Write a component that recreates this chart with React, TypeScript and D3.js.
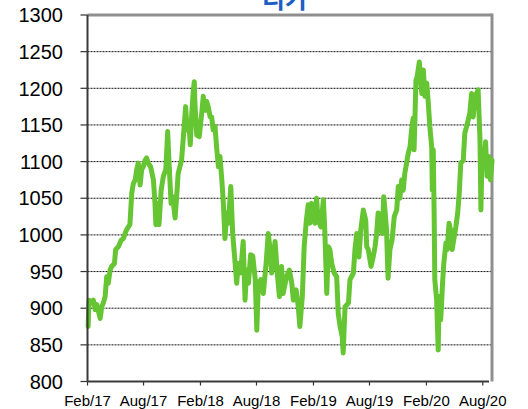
import React from "react";
import * as d3 from "d3";

const title = "리가";

const dates: string[] = [
  "2017-02-03","2017-02-06","2017-02-15","2017-02-20","2017-02-26","2017-03-03","2017-03-14","2017-03-19","2017-03-24","2017-03-30",
  "2017-04-04","2017-04-09","2017-04-15","2017-04-20","2017-04-29","2017-05-03","2017-05-12","2017-05-21","2017-05-28","2017-06-05",
  "2017-06-13","2017-06-18","2017-06-24","2017-06-29","2017-07-05","2017-07-10","2017-07-15","2017-07-21","2017-07-26","2017-07-31",
  "2017-08-06","2017-08-11","2017-08-16","2017-08-24","2017-09-02","2017-09-07","2017-09-10","2017-09-16","2017-09-20","2017-09-27",
  "2017-10-04","2017-10-12","2017-10-18","2017-10-22","2017-10-29","2017-11-03","2017-11-11","2017-11-16","2017-11-21","2017-12-02",
  "2017-12-11","2017-12-15","2017-12-20","2017-12-26","2017-12-30","2018-01-04","2018-01-09","2018-01-12","2018-01-14","2018-01-20",
  "2018-01-28","2018-02-05","2018-02-10","2018-02-16","2018-02-21","2018-02-26","2018-03-04","2018-03-09","2018-03-14","2018-03-20",
  "2018-03-25","2018-03-31","2018-04-05","2018-04-11","2018-04-16","2018-04-21","2018-04-27","2018-05-02","2018-05-10","2018-05-16",
  "2018-05-24","2018-05-29","2018-06-03","2018-06-09","2018-06-14","2018-06-19","2018-06-25","2018-06-30","2018-07-06","2018-07-13",
  "2018-07-20","2018-07-28","2018-08-02","2018-08-07","2018-08-15","2018-08-23","2018-09-01","2018-09-08","2018-09-14","2018-09-19",
  "2018-09-30","2018-10-07","2018-10-14","2018-10-21","2018-10-26","2018-11-06","2018-11-15","2018-11-23","2018-11-28","2018-12-07",
  "2018-12-14","2018-12-19","2018-12-27","2019-01-02","2019-01-09","2019-01-15","2019-01-20","2019-01-26","2019-01-31","2019-02-06",
  "2019-02-11","2019-02-16","2019-02-25","2019-03-05","2019-03-10","2019-03-16","2019-03-21","2019-03-26","2019-04-01","2019-04-09",
  "2019-04-17","2019-04-22","2019-04-28","2019-05-05","2019-05-08","2019-05-14","2019-05-25","2019-05-30","2019-06-10","2019-06-15",
  "2019-06-21","2019-06-28","2019-07-04","2019-07-12","2019-07-20","2019-07-23","2019-07-28","2019-08-06","2019-08-13","2019-08-19",
  "2019-08-24","2019-08-29","2019-09-04","2019-09-11","2019-09-16","2019-09-20","2019-09-25","2019-09-30","2019-10-06","2019-10-13",
  "2019-10-20","2019-10-28","2019-11-02","2019-11-07","2019-11-13","2019-11-18","2019-11-23","2019-11-29","2019-12-04","2019-12-10",
  "2019-12-15","2019-12-20","2019-12-23","2019-12-26","2019-12-29","2020-01-02","2020-01-09","2020-01-13","2020-01-17","2020-01-22",
  "2020-01-27","2020-02-02","2020-02-07","2020-02-12","2020-02-18","2020-02-20","2020-02-23","2020-02-26","2020-02-28","2020-03-05",
  "2020-03-10","2020-03-13","2020-03-18","2020-03-21","2020-03-24","2020-03-28","2020-04-04","2020-04-08","2020-04-14","2020-04-19",
  "2020-04-24","2020-05-01","2020-05-06","2020-05-12","2020-05-17","2020-05-22","2020-05-30","2020-06-04","2020-06-10","2020-06-15",
  "2020-06-20","2020-06-26","2020-07-01","2020-07-07","2020-07-12","2020-07-17","2020-07-23","2020-07-26","2020-07-30","2020-08-05",
  "2020-08-10","2020-08-15","2020-08-21","2020-08-26","2020-08-31"
];

const values: number[] = [
  875,911,907,911,898,905,886,902,907,916,
  943,934,952,957,961,980,984,993,995,1005,
  1011,1014,1057,1070,1075,1089,1098,1068,1089,1093,
  1102,1105,1098,1093,1075,1043,1014,1043,1014,1061,
  1080,1089,1141,1102,1043,1052,1023,1052,1084,1102,
  1152,1175,1143,1152,1123,1166,1198,1209,1180,1136,
  1134,1166,1189,1170,1182,1175,1161,1161,1143,1148,
  1120,1093,1107,1075,1043,995,1030,1016,1066,1002,
  961,934,961,948,966,991,911,952,934,973,
  971,939,870,934,939,920,961,1002,980,948,
  991,948,916,957,920,943,952,934,911,925,
  902,875,916,984,1020,1041,1016,1043,1020,1016,
  1050,1020,1011,1048,1002,920,984,980,961,948,
  943,893,875,861,839,902,907,939,948,980,
  1002,970,1007,1034,1020,984,980,957,970,984,
  1002,1030,1011,1002,1052,1034,1007,941,980,993,
  1025,1034,1066,1050,1075,1061,1084,1098,1111,1120,
  1143,1159,1116,1161,1211,1216,1236,1211,1193,1225,
  1189,1207,1180,1148,1120,1061,1116,1025,939,911,
  843,916,884,907,934,961,989,980,1016,1007,
  980,998,1011,1030,1057,1098,1102,1139,1148,1157,
  1166,1193,1161,1189,1193,1198,1130,1034,1116,1098,
  1127,1080,1107,1075,1102
];

const yTicks: number[] = [800, 850, 900, 950, 1000, 1050, 1100, 1150, 1200, 1250, 1300];
const xTickDates: string[] = ["2017-02-01","2017-08-01","2018-02-01","2018-08-01","2019-02-01","2019-08-01","2020-02-01","2020-08-01"];
const xTickLabels: string[] = ["Feb/17","Aug/17","Feb/18","Aug/18","Feb/19","Aug/19","Feb/20","Aug/20"];
const xDomain: string[] = ["2017-02-01", "2020-09-04"];

export default function App() {
  const W = 528, H = 409;
  const left = 87.5, right = 492, top = 15, bottom = 381.5;
  const parse = d3.timeParse("%Y-%m-%d");
  const x = d3.scaleTime().domain([parse(xDomain[0])!, parse(xDomain[1])!]).range([left, 493.3]);
  const y = d3.scaleLinear().domain([800, 1300]).range([bottom, top]);
  const pts = dates.map((d, i) => ({ d: parse(d)!, v: values[i] }));
  const line = d3.line<{ d: Date; v: number }>().x(p => x(p.d)).y(p => y(p.v));
  const font = "'Liberation Sans', Arial, sans-serif";
  return (
    <svg width={W} height={H} style={{ position: "absolute", left: 0, top: 0, background: "#fff" }}>
      <text x={285} y={8} textAnchor="middle" fontFamily="'Noto Sans CJK KR', sans-serif" fontWeight="bold" fontSize={25} fill="#1b5fc4">{title}</text>
      {yTicks.filter(t => t > 800 && t < 1300).map(t => (
        <line key={"g" + t} x1={left} x2={right} y1={y(t)} y2={y(t)} stroke="#111" strokeWidth={1} strokeDasharray="2,1" />
      ))}
      <line x1={left} x2={right} y1={top} y2={top} stroke="#8f8f8f" strokeWidth={3} />
      <line x1={right} x2={right} y1={top - 1.5} y2={bottom} stroke="#8f8f8f" strokeWidth={3} />
      {yTicks.map(t => (
        <g key={"y" + t}>
          <line x1={left - 7} x2={left} y1={y(t)} y2={y(t)} stroke="#333" strokeWidth={1.2} />
          <text x={63} y={y(t)} dy="0.36em" textAnchor="end" fontFamily={font} fontSize={20} fill="#000">{t}</text>
        </g>
      ))}
      {xTickDates.map((d, i) => (
        <g key={"x" + d}>
          <line x1={x(parse(d)!)} x2={x(parse(d)!)} y1={bottom} y2={bottom + 4} stroke="#333" strokeWidth={1.2} />
          <text x={x(parse(d)!)} y={406} textAnchor="middle" fontFamily={font} fontSize={15} fill="#000">{xTickLabels[i]}</text>
        </g>
      ))}
      <path d={line(pts) || ""} fill="none" stroke="#66c533" strokeWidth={5} strokeLinejoin="round" strokeLinecap="round" />
      <line x1={left} x2={left} y1={top} y2={bottom} stroke="#3a3a3a" strokeWidth={2} />
      <line x1={left} x2={489} y1={bottom} y2={bottom} stroke="#3a3a3a" strokeWidth={2} />
    </svg>
  );
}
